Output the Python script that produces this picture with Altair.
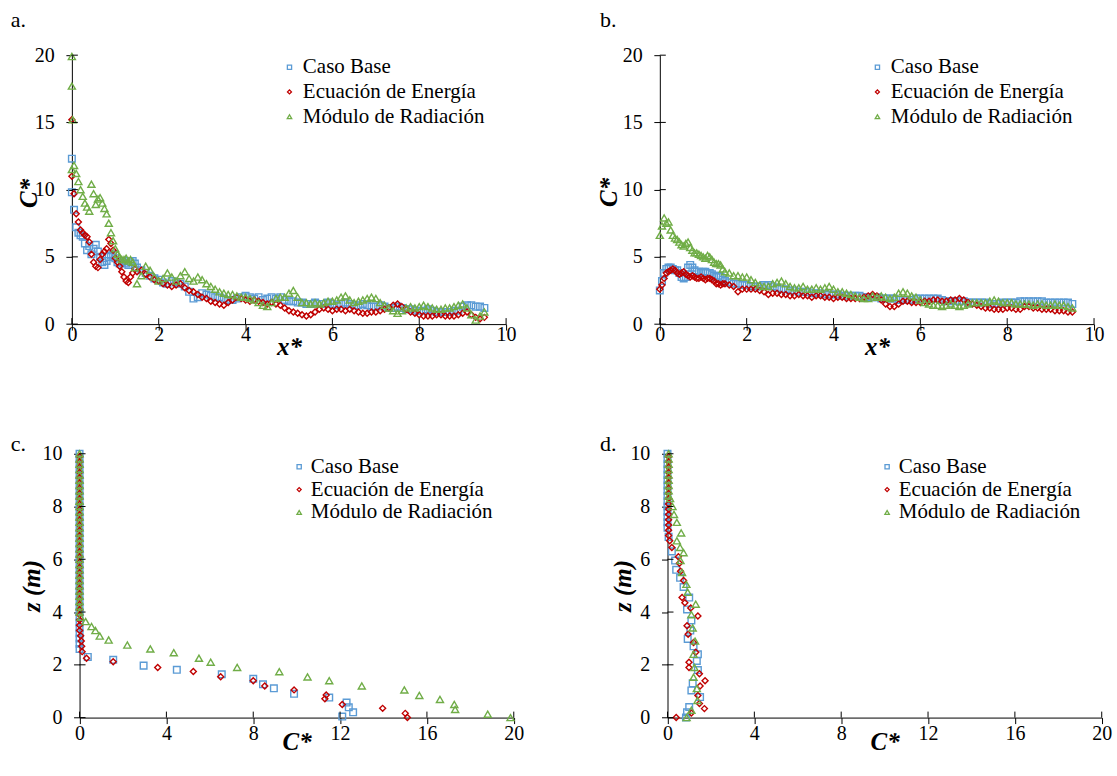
import altair as alt
import pandas as pd

# ---------------------------------------------------------------- data
SERIES = ["Caso Base", "Ecuación de Energía", "Módulo de Radiación"]

# sampling grid along x* (panels a and b)
X_GRID = [0.0, 0.05, 0.1, 0.15, 0.2, 0.25, 0.3, 0.35, 0.4, 0.45, 0.5, 0.55, 0.6,
          0.65, 0.7, 0.75, 0.8, 0.85, 0.9, 0.95, 1.0, 1.05, 1.1, 1.15, 1.2, 1.25,
          1.3, 1.35, 1.4, 1.45, 1.5,
          1.6, 1.7, 1.8, 1.9,
          2.0, 2.1, 2.2, 2.3, 2.4, 2.5, 2.6, 2.7, 2.8, 2.9,
          3.0, 3.1, 3.2, 3.3, 3.4, 3.5, 3.6, 3.7, 3.8, 3.9,
          4.0, 4.1, 4.2, 4.3, 4.4, 4.5, 4.6, 4.7, 4.8, 4.9,
          5.0, 5.1, 5.2, 5.3, 5.4, 5.5, 5.6, 5.7, 5.8, 5.9,
          6.0, 6.1, 6.2, 6.3, 6.4, 6.5, 6.6, 6.7, 6.8, 6.9,
          7.0, 7.1, 7.2, 7.3, 7.4, 7.5, 7.6, 7.7, 7.8, 7.9,
          8.0, 8.1, 8.2, 8.3, 8.4, 8.5, 8.6, 8.7, 8.8, 8.9,
          9.0, 9.1, 9.2, 9.3, 9.4, 9.5]

# panel a: C* along x*
A_BLUE = [9.8, 8.5, 7.2, 6.8, 6.6, 6.5, 6.0, 5.5, 5.8, 5.2, 5.6, 5.9, 5.4, 5.0, 4.6, 4.4,
          4.7, 5.0, 5.1, 5.2, 4.9, 4.6, 4.5, 4.6, 4.7, 4.5, 4.4, 4.6, 4.7, 4.5, 4.2,
          4.0, 3.8, 3.6, 3.4,
          3.3, 3.1, 3.0, 3.2, 3.1, 3.0, 2.8, 2.4, 1.9, 2.0,
          2.3, 2.2, 2.1, 2.0, 2.0, 1.9, 1.8, 1.8, 1.9, 2.0,
          2.1, 2.0, 1.9, 2.0, 1.8, 1.9, 2.0, 1.9, 2.0, 1.8,
          1.7, 1.7, 1.6, 1.6, 1.5, 1.5, 1.6, 1.5, 1.5, 1.6,
          1.5, 1.4, 1.5, 1.6, 1.5, 1.4, 1.4, 1.5, 1.4, 1.3,
          1.3, 1.4, 1.3, 1.2, 1.2, 1.3, 1.2, 1.1, 1.1, 1.0,
          1.0, 1.0, 1.1, 1.0, 0.9, 0.9, 0.9, 0.9, 1.0, 1.0,
          1.3, 1.4, 1.4, 1.3, 1.3, 1.2]
A_RED = [11.0, 9.7, 8.2, 7.6, 7.0, 6.8, 6.6, 6.5, 6.1, 5.2, 4.6, 4.3, 4.2, 4.8, 5.2, 5.4,
         5.6, 6.3, 6.0, 5.5, 4.9, 4.6, 4.3, 3.9, 3.5, 3.2, 3.1, 3.5, 3.8, 4.1, 3.9,
         4.0, 3.7, 3.5, 3.3,
         3.2, 3.0, 2.9, 2.8, 2.9, 3.0, 2.7, 2.5, 2.4, 2.2,
         2.0, 1.9, 1.7, 1.6, 1.5, 1.4, 1.6, 1.8, 2.0, 1.9,
         1.8, 1.7, 1.8, 1.7, 1.6, 1.5, 1.6, 1.5, 1.4, 1.2,
         1.0, 0.9, 0.8, 0.7, 0.6, 0.7, 0.9, 1.1, 1.2, 1.1,
         1.0, 1.1, 1.1, 1.0, 1.1, 1.0, 0.9, 0.8, 0.8, 0.9,
         0.9, 1.0, 1.1, 1.2, 1.4, 1.5, 1.3, 1.1, 0.9, 0.8,
         0.7, 0.6, 0.6, 0.6, 0.7, 0.7, 0.6, 0.6, 0.6, 0.7,
         0.8, 0.9, 0.7, 0.5, 0.4, 0.5]
A_GREEN = [11.5, 11.8, 11.2, 10.6, 10.0, 9.5, 9.0, 8.7, 8.4, 10.4, 9.7, 8.9, 9.3, 9.4, 9.0,
           8.6, 8.2, 7.5, 6.8, 6.2, 5.6, 5.2, 5.0, 4.8, 4.8, 4.9, 4.7, 4.8, 4.6, 4.2, 3.0,
           3.6, 4.3, 4.0, 3.5,
           3.2, 3.4, 3.8, 3.5, 3.2, 3.6, 3.9, 3.4, 3.2, 3.5,
           3.3, 3.0, 2.8, 2.6, 2.4, 2.3, 2.2, 2.2, 2.1, 2.0,
           2.0, 1.9, 1.8, 1.6, 1.4, 1.3, 1.6, 1.9, 2.0, 2.0,
           2.3, 2.5, 2.0, 1.6, 1.6, 1.5, 1.6, 1.5, 1.6, 1.7,
           1.7, 1.8, 2.0, 2.1, 1.8, 1.6, 1.7, 1.8, 1.9, 2.0,
           1.9, 1.6, 1.4, 1.2, 1.0, 0.8, 1.0, 1.2, 1.3, 1.2,
           1.3, 1.4, 1.3, 1.2, 1.1, 1.1, 1.2, 1.2, 1.3, 1.4,
           1.5, 1.2, 0.7, 0.3, 0.6, 0.9]
# isolated peaks right at the source (x* ~ 0)
A_PEAK_BLUE_X, A_PEAK_BLUE_Y = [0.0], [12.3]
A_PEAK_RED_X, A_PEAK_RED_Y = [0.0], [15.2]
A_PEAK_GREEN_X, A_PEAK_GREEN_Y = [0.0, 0.0, 0.02], [19.9, 17.7, 15.2]

# panel b: C* along x*
B_BLUE = [2.5, 3.2, 3.8, 4.1, 4.2, 4.2, 4.1, 4.0, 4.0, 3.8, 3.5, 3.4, 3.5, 4.2, 4.4, 4.2,
          4.0, 3.9, 3.9, 3.8, 3.9, 3.9, 3.8, 3.8, 3.7, 3.6, 3.5, 3.6, 3.5, 3.3, 3.2,
          3.1, 3.0, 3.0, 2.9,
          2.9, 2.8, 2.8, 2.8, 2.9, 2.9, 2.8, 2.7, 2.6, 2.6,
          2.5, 2.5, 2.4, 2.4, 2.4, 2.3, 2.3, 2.3, 2.2, 2.2,
          2.2, 2.2, 2.1, 2.1, 2.1, 2.1, 2.1, 2.0, 2.0, 2.0,
          2.0, 1.9, 1.9, 1.9, 1.9, 1.8, 1.8, 1.8, 1.8, 1.9,
          1.9, 1.9, 1.9, 1.9, 1.9, 1.8, 1.7, 1.7, 1.7, 1.7,
          1.7, 1.6, 1.6, 1.6, 1.6, 1.6, 1.5, 1.5, 1.5, 1.6,
          1.6, 1.6, 1.6, 1.7, 1.7, 1.7, 1.7, 1.7, 1.7, 1.6,
          1.6, 1.6, 1.6, 1.6, 1.6, 1.5]
B_RED = [2.6, 2.9, 3.4, 3.8, 3.9, 4.0, 4.1, 4.0, 3.8, 3.7, 3.8, 3.9, 3.7, 3.6, 3.5, 3.6,
         3.5, 3.4, 3.4, 3.5, 3.4, 3.3, 3.4, 3.4, 3.3, 3.2, 3.0, 3.0, 2.9, 3.0, 3.0,
         2.9, 2.8, 2.4, 2.6,
         2.6, 2.6, 2.6, 2.5, 2.4, 2.2, 2.3, 2.3, 2.2, 2.2,
         2.1, 2.1, 2.2, 2.1, 2.1, 2.0, 2.1, 2.1, 2.0, 2.0,
         1.9, 2.0, 2.0, 1.9, 1.9, 1.9, 1.9, 2.0, 2.1, 2.2,
         2.1, 1.8, 1.5, 1.3, 1.3, 1.5, 1.7, 1.7, 1.6, 1.6,
         1.6, 1.7, 1.7, 1.8, 1.8, 1.7, 1.7, 1.8, 1.8, 1.9,
         1.8, 1.6, 1.5, 1.4, 1.3, 1.2, 1.2, 1.1, 1.1, 1.1,
         1.2, 1.2, 1.1, 1.1, 1.3, 1.3, 1.2, 1.2, 1.1, 1.1,
         1.1, 1.0, 1.0, 1.0, 0.9, 0.9]
B_GREEN = [6.6, 7.3, 7.9, 7.5, 7.6, 7.0, 6.6, 6.4, 6.3, 6.1, 5.9, 5.8, 6.0, 6.1, 5.7, 5.5,
           5.3, 5.3, 5.2, 5.1, 5.0, 4.9, 5.1, 5.0, 4.8, 4.6, 4.5, 4.5, 4.4, 4.1, 3.9,
           3.8, 3.6, 3.6, 3.5,
           3.5, 3.3, 3.1, 2.9, 2.8, 2.8, 3.0, 3.1, 3.2, 3.0,
           2.8, 2.7, 2.7, 2.8, 2.6, 2.6, 2.7, 2.6, 2.7, 2.8,
           2.6, 2.4, 2.4, 2.3, 2.2, 2.1, 2.0, 1.9, 1.9, 2.1,
           2.0, 2.1, 2.0, 1.9, 2.0, 2.3, 2.4, 2.3, 2.1, 2.0,
           1.8, 1.6, 1.5, 1.4, 1.4, 1.3, 1.4, 1.5, 1.4, 1.3,
           1.4, 1.5, 1.6, 1.6, 1.6, 1.6, 1.7, 1.8, 1.7, 1.6,
           1.6, 1.6, 1.5, 1.5, 1.5, 1.5, 1.4, 1.5, 1.5, 1.4,
           1.4, 1.5, 1.4, 1.4, 1.3, 1.2]

# panel c: vertical profiles (C*, z)
C_BLUE_C = [0.0, 0.0, 0.0, 0.0, 0.0, 0.0, 0.0, 0.0, 0.0, 0.0,
            0.0, 0.0, 0.0, 0.0, 0.0, 0.0, 0.0, 0.0, 0.0, 0.0,
            0.0, 0.0, 0.0, 0.0, 0.0, 0.0, 0.0, 0.0, 0.0, 0.0,
            0.0, 0.0, 0.0, 0.0, 0.0, 0.0, 0.0, 0.0,
            0.38, 1.55, 2.95, 4.48, 6.55, 8.0, 8.45, 8.95, 9.88, 11.5, 12.3, 12.4, 12.6, 12.1]
C_BLUE_Z = [10.0, 9.8, 9.6, 9.4, 9.2, 9.0, 8.8, 8.6, 8.4, 8.2,
            8.0, 7.8, 7.6, 7.4, 7.2, 7.0, 6.8, 6.6, 6.4, 6.2,
            6.0, 5.8, 5.6, 5.4, 5.2, 5.0, 4.8, 4.6, 4.4, 4.2,
            4.0, 3.8, 3.6, 3.4, 3.2, 3.0, 2.8, 2.6,
            2.30, 2.19, 1.97, 1.81, 1.64, 1.47, 1.26, 1.11, 0.90, 0.76, 0.57, 0.39, 0.20, 0.04]
C_RED_C = [0.0, 0.0, 0.0, 0.0, 0.0, 0.0, 0.0, 0.0, 0.0, 0.0,
           0.0, 0.0, 0.0, 0.0, 0.0, 0.0, 0.0, 0.0, 0.0, 0.0,
           0.0, 0.0, 0.0, 0.0, 0.0, 0.0, 0.0, 0.0, 0.0, 0.0,
           0.0, 0.0, 0.0, 0.0, 0.05, 0.08, 0.1, 0.12,
           0.32, 1.55, 3.6, 5.24, 6.5, 8.0, 8.53, 9.88, 11.36, 11.3, 12.1, 13.96, 15.0, 15.1]
C_RED_Z = [9.9, 9.7, 9.5, 9.3, 9.1, 8.9, 8.7, 8.5, 8.3, 8.1,
           7.9, 7.7, 7.5, 7.3, 7.1, 6.9, 6.7, 6.5, 6.3, 6.1,
           5.9, 5.7, 5.5, 5.3, 5.1, 4.9, 4.7, 4.5, 4.3, 4.1,
           3.9, 3.7, 3.5, 3.3, 3.1, 2.9, 2.7, 2.5,
           2.25, 2.12, 1.90, 1.75, 1.55, 1.40, 1.20, 1.05, 0.86, 0.71, 0.50, 0.35, 0.16, 0.0]
C_GREEN_C = [0.0, 0.0, 0.0, 0.0, 0.0, 0.0, 0.0, 0.0, 0.0, 0.0,
             0.0, 0.0, 0.0, 0.0, 0.0, 0.0, 0.0, 0.0, 0.0, 0.0,
             0.0, 0.0, 0.0, 0.0, 0.0, 0.0, 0.0, 0.0, 0.0, 0.0,
             0.0, 0.05,
             0.28, 0.55, 0.73, 0.93, 1.34, 2.2, 3.26, 4.34, 5.5, 6.04, 7.26, 9.2,
             10.5, 11.5, 13.0, 14.96, 15.65, 16.6, 17.26, 17.3, 18.8, 19.85]
C_GREEN_Z = [10.0, 9.8, 9.6, 9.4, 9.2, 9.0, 8.8, 8.6, 8.4, 8.2,
             8.0, 7.8, 7.6, 7.4, 7.2, 7.0, 6.8, 6.6, 6.4, 6.2,
             6.0, 5.8, 5.6, 5.4, 5.2, 5.0, 4.8, 4.6, 4.4, 4.2,
             4.0, 3.8,
             3.64, 3.45, 3.30, 3.09, 2.94, 2.75, 2.60, 2.46, 2.25, 2.10, 1.90, 1.74,
             1.54, 1.40, 1.20, 1.05, 0.84, 0.69, 0.50, 0.31, 0.13, 0.0]

# panel d: vertical profiles (C*, z)
D_BLUE_C = [0.0, 0.0, 0.0, 0.0, 0.0, 0.0, 0.0, 0.0, 0.0, 0.0, 0.0, 0.0, 0.0, 0.0, 0.0,
            0.05, 0.2, 0.35, 0.4, 0.58, 0.74, 1.0, 0.9, 1.1, 1.05, 0.93, 1.2, 1.4, 1.35,
            1.4, 1.16, 1.1, 1.5, 1.0, 0.9, 0.85]
D_BLUE_Z = [10.0, 9.8, 9.6, 9.4, 9.2, 9.0, 8.8, 8.6, 8.4, 8.2, 8.0, 7.8, 7.6, 7.4, 7.2,
            6.85, 6.3, 5.95, 5.6, 5.3, 4.95, 4.55, 4.1, 3.68, 3.3, 2.98, 2.7, 2.4, 2.15,
            1.8, 1.3, 1.03, 0.78, 0.4, 0.2, 0.0]
D_RED_C = [0.05, 0.05, 0.05, 0.05, 0.05, 0.05, 0.05, 0.05, 0.05, 0.05, 0.05, 0.05, 0.05,
           0.05, 0.05, 0.05,
           0.1, 0.2, 0.5, 0.55, 0.6, 0.74, 0.67, 0.8, 1.07, 1.4, 0.9, 0.95, 1.2, 1.3,
           0.99, 0.99, 1.47, 1.73, 1.5, 1.4, 1.47, 1.7, 1.1, 0.4]
D_RED_Z = [9.9, 9.7, 9.5, 9.3, 9.1, 8.9, 8.7, 8.5, 8.3, 8.1, 7.9, 7.7, 7.5, 7.3, 7.1, 6.9,
           6.7, 6.45, 6.1, 5.85, 5.55, 5.2, 4.55, 4.35, 4.15, 3.85, 3.48, 3.16, 2.85, 2.48,
           2.1, 1.9, 1.66, 1.4, 1.2, 0.84, 0.53, 0.34, 0.17, 0.0]
D_GREEN_C = [0.05, 0.05, 0.05, 0.05, 0.05, 0.05, 0.05, 0.05, 0.05,
             0.12, 0.23, 0.3, 0.43, 0.63, 0.43, 0.58, 0.74, 0.6, 0.67, 0.87, 0.93, 1.3,
             1.1, 1.16, 1.27, 1.2, 1.24, 1.2, 1.35, 1.38, 1.1, 0.88]
D_GREEN_Z = [10.0, 9.8, 9.6, 9.4, 9.2, 9.0, 8.8, 8.6, 8.4,
             8.3, 8.0, 7.7, 7.4, 7.0, 6.7, 6.45, 6.25, 5.95, 5.5, 5.05, 4.75, 4.3,
             3.9, 3.4, 2.9, 2.4, 1.9, 1.53, 1.1, 0.65, 0.28, 0.0]

X_TICKS_TOP = [0, 2, 4, 6, 8, 10]
Y_TICKS_TOP = [0, 5, 10, 15, 20]
X_TICKS_BOTTOM = [0, 4, 8, 12, 16, 20]
Y_TICKS_BOTTOM = [0, 2, 4, 6, 8, 10]

# ---------------------------------------------------------------- style
FONT = "Liberation Serif, Times New Roman, serif"
COLORS = ["#5B9BD5", "#C00000", "#70AD47"]
SHAPES = ["square", "diamond", "triangle-up"]
SIZES = [44, 36, 50]
LEG_SIZES = [18, 16, 20]
TICK = 6
LABEL_SIZE = 20
TITLE_SIZE = 25
LEGEND_SIZE = 21


def panel(series, cfg):
    W, H, x0 = cfg["W"], cfg["H"], cfg["x0"]
    xs = alt.Scale(domain=cfg["xdom"], range=[x0, W], nice=False, zero=False)
    ys = alt.Scale(domain=cfg["ydom"], nice=False, zero=False)
    common = dict(grid=False, labelFlush=False, labelOverlap=False,
                  tickSize=TICK, tickWidth=1, tickColor="black",
                  domainColor="black", domainWidth=1,
                  labelFont=FONT, labelFontSize=LABEL_SIZE, labelColor="black",
                  titleFont=FONT, titleFontSize=TITLE_SIZE, titleFontWeight="bold",
                  titleFontStyle="italic", titleColor="black",
                  titleBaseline="middle", titleAlign="center")
    ax = alt.Axis(values=cfg["xticks"], title=cfg["xtitle"], labelBaseline="middle",
                  labelPadding=cfg["xlabpad"], titleX=(x0 + W) / 2,
                  titleY=cfg["xtitle_y"], **common)
    ay = alt.Axis(values=cfg["yticks"], title=cfg["ytitle"], labelPadding=11.7,
                  offset=-x0, titleX=cfg["ytitle_x"], titleY=cfg["ytitle_y"],
                  titleAngle=270, **common)
    X = alt.X("x:Q", scale=xs, axis=ax)
    Y = alt.Y("y:Q", scale=ys, axis=ay)

    layers = []
    for i, (xv, yv) in enumerate(series):
        assert len(xv) == len(yv), (cfg["label"], i, len(xv), len(yv))
        df = pd.DataFrame({"x": xv, "y": yv})
        layers.append(
            alt.Chart(df).mark_point(shape=SHAPES[i], color=COLORS[i], filled=False,
                                     size=SIZES[i], strokeWidth=1.4, opacity=1)
            .encode(x=X, y=Y)
        )
    # inner half of the crossing ticks
    layers.append(
        alt.Chart(pd.DataFrame({"x": cfg["xticks"]})).mark_rule(color="black", strokeWidth=1)
        .encode(x=X, y=alt.value(H - TICK), y2=alt.value(H))
    )
    layers.append(
        alt.Chart(pd.DataFrame({"y": cfg["yticks"]})).mark_rule(color="black", strokeWidth=1)
        .encode(y=Y, x=alt.value(x0), x2=alt.value(x0 + TICK))
    )
    # legend
    lx, tx, ly, dy = cfg["leg"]
    for i, name in enumerate(SERIES):
        one = pd.DataFrame({"t": [name]})
        layers.append(
            alt.Chart(one).mark_point(shape=SHAPES[i], color=COLORS[i], filled=False,
                                      size=LEG_SIZES[i], strokeWidth=1.3, opacity=1)
            .encode(x=alt.value(lx), y=alt.value(ly + i * dy))
        )
        layers.append(
            alt.Chart(one).mark_text(font=FONT, fontSize=LEGEND_SIZE, color="black",
                                     align="left", baseline="middle")
            .encode(x=alt.value(tx), y=alt.value(ly + i * dy), text="t:N")
        )
    # panel letter
    layers.append(
        alt.Chart(pd.DataFrame({"t": [cfg["label"]]})).mark_text(
            font=FONT, fontSize=22, color="black", align="left", baseline="top")
        .encode(x=alt.value(cfg["lab_x"]), y=alt.value(cfg["lab_y"]), text="t:N")
    )
    return alt.layer(*layers).properties(width=W, height=H)


TOP = dict(W=435, H=269.4, x0=0, xdom=[0, 10], ydom=[0, 20],
           xticks=X_TICKS_TOP, yticks=Y_TICKS_TOP, xtitle="x*", ytitle="C*",
           xlabpad=4.3, xtitle_y=22.3, ytitle_y=138, leg=(218, 231.4, 12, 24.8),
           lab_y=-45.7)
BOT = dict(W=442.7, H=264.3, x0=7.7, xdom=[0, 20], ydom=[0, 10],
           xticks=X_TICKS_BOTTOM, yticks=Y_TICKS_BOTTOM, xtitle="C*", ytitle="z (m)",
           xlabpad=9.7, xtitle_y=24, ytitle_y=132, leg=(227.7, 239.4, 13, 22.9),
           lab_y=-19.4)

pa = panel([(A_PEAK_BLUE_X + X_GRID, A_PEAK_BLUE_Y + A_BLUE),
            (A_PEAK_RED_X + X_GRID, A_PEAK_RED_Y + A_RED),
            (A_PEAK_GREEN_X + X_GRID, A_PEAK_GREEN_Y + A_GREEN)],
           dict(TOP, label="a.", lab_x=-61.3, ytitle_x=-43.8))
pb = panel([(X_GRID, B_BLUE), (X_GRID, B_RED), (X_GRID, B_GREEN)],
           dict(TOP, label="b.", lab_x=-60, ytitle_x=-51, ytitle_y=137))
pc = panel([(C_BLUE_C, C_BLUE_Z), (C_RED_C, C_RED_Z), (C_GREEN_C, C_GREEN_Z)],
           dict(BOT, label="c.", lab_x=-61.3, ytitle_x=-48))
pd_ = panel([(D_BLUE_C, D_BLUE_Z), (D_RED_C, D_RED_Z), (D_GREEN_C, D_GREEN_Z)],
            dict(BOT, label="d.", lab_x=-60, ytitle_x=-45.2))

chart = (
    alt.concat(pa, pb, pc, pd_, columns=2, spacing={"row": 129.3, "column": 146},
               bounds="flush")
    .properties(padding={"left": 10, "top": 7.6, "right": 5, "bottom": 5},
                background="white")
    .configure_view(stroke=None)
)

chart.save("out.html", embed_options={"renderer": "svg", "actions": False})
